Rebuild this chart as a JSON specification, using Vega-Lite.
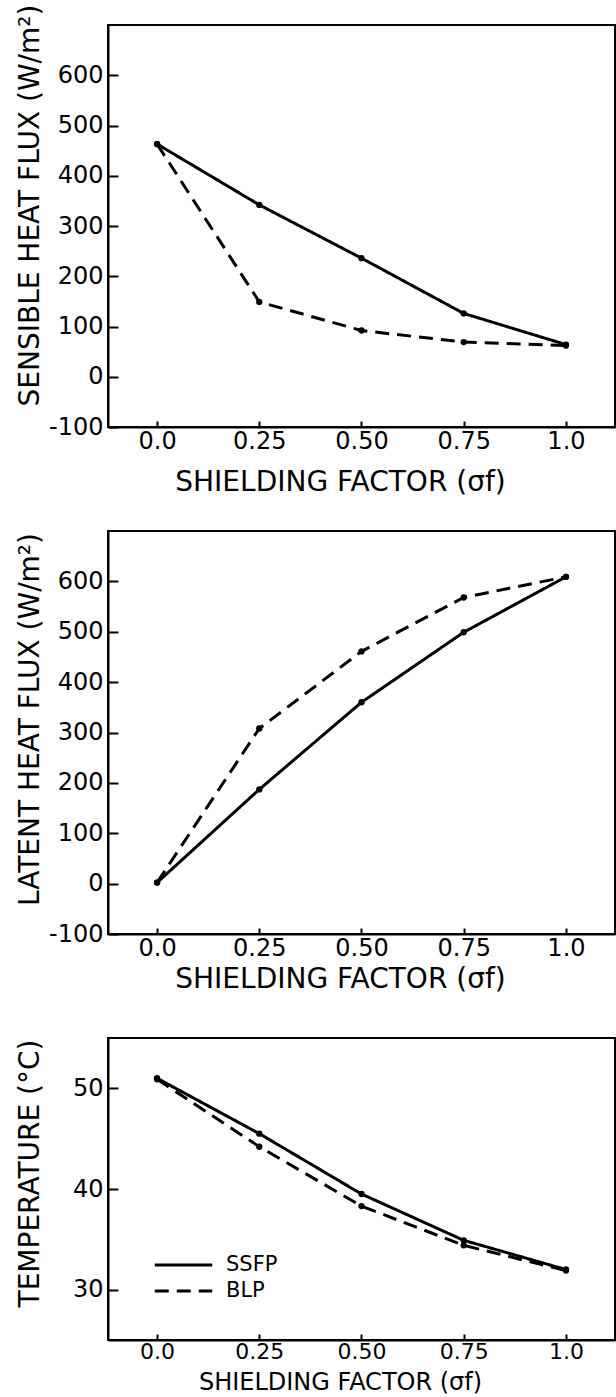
{
  "$schema": "https://vega.github.io/schema/vega-lite/v6.json",
  "background": "white",
  "padding": {"left": 14, "top": 3, "right": 0, "bottom": 0},
  "datasets": {
    "sensible": [
      {"sigma": 0, "model": "SSFP", "flux": 463},
      {"sigma": 0.25, "model": "SSFP", "flux": 342},
      {"sigma": 0.5, "model": "SSFP", "flux": 236},
      {"sigma": 0.75, "model": "SSFP", "flux": 126},
      {"sigma": 1, "model": "SSFP", "flux": 64},
      {"sigma": 0, "model": "BLP", "flux": 463},
      {"sigma": 0.25, "model": "BLP", "flux": 149},
      {"sigma": 0.5, "model": "BLP", "flux": 92},
      {"sigma": 0.75, "model": "BLP", "flux": 69},
      {"sigma": 1, "model": "BLP", "flux": 62}
    ],
    "latent": [
      {"sigma": 0, "model": "SSFP", "flux": 2},
      {"sigma": 0.25, "model": "SSFP", "flux": 187},
      {"sigma": 0.5, "model": "SSFP", "flux": 360},
      {"sigma": 0.75, "model": "SSFP", "flux": 499},
      {"sigma": 1, "model": "SSFP", "flux": 609},
      {"sigma": 0, "model": "BLP", "flux": 2},
      {"sigma": 0.25, "model": "BLP", "flux": 308},
      {"sigma": 0.5, "model": "BLP", "flux": 461},
      {"sigma": 0.75, "model": "BLP", "flux": 568},
      {"sigma": 1, "model": "BLP", "flux": 609}
    ],
    "temp": [
      {"sigma": 0, "model": "SSFP", "t": 51.0},
      {"sigma": 0.25, "model": "SSFP", "t": 45.5},
      {"sigma": 0.5, "model": "SSFP", "t": 39.5},
      {"sigma": 0.75, "model": "SSFP", "t": 34.9},
      {"sigma": 1, "model": "SSFP", "t": 32.0},
      {"sigma": 0, "model": "BLP", "t": 50.9},
      {"sigma": 0.25, "model": "BLP", "t": 44.2},
      {"sigma": 0.5, "model": "BLP", "t": 38.3},
      {"sigma": 0.75, "model": "BLP", "t": 34.4},
      {"sigma": 1, "model": "BLP", "t": 31.9}
    ]
  },
  "config": {
    "view": {"stroke": "black", "strokeWidth": 2},
    "font": "DejaVu Sans",
    "axis": {
      "grid": false,
      "domainColor": "black",
      "domainWidth": 2,
      "tickColor": "black",
      "tickWidth": 2,
      "labelColor": "black",
      "labelFont": "DejaVu Sans",
      "labelFontSize": 24,
      "titleColor": "black",
      "titleFont": "DejaVu Sans",
      "titleFontSize": 28,
      "titleFontWeight": "normal"
    },
    "axisY": {"tickSize": -10, "labelPadding": 15, "titleBaseline": "middle", "titleX": -78, "titleAngle": 270,
      "labelExpr": "datum.value < 0 ? '-' + abs(datum.value) : datum.label"},
    "axisX": {"tickSize": -6, "labelPadding": 8, "labelFlush": false, "titleX": 232, "titleBaseline": "middle"}
  },
  "spacing": 104,
  "bounds": "flush",
  "resolve": {"scale": {"strokeDash": "independent"}, "legend": {"strokeDash": "independent"}},
  "vconcat": [
    {
      "width": 507,
      "height": 402,
      "data": {"name": "sensible"},
      "encoding": {
        "x": {"field": "sigma", "type": "quantitative", "scale": {"domain": [-0.12, 1.12], "nice": false, "zero": false},
          "axis": {"values": [0, 0.25, 0.5, 0.75, 1], "labelExpr": "datum.value == 0 ? '0.0' : datum.value == 1 ? '1.0' : format(datum.value, '.2f')", "title": "SHIELDING FACTOR (σf)", "titleY": 55}},
        "y": {"field": "flux", "type": "quantitative", "scale": {"domain": [-100, 700], "nice": false, "zero": false},
          "axis": {"values": [-100, 0, 100, 200, 300, 400, 500, 600], "title": "SENSIBLE HEAT FLUX (W/m²)", "titleY": 180}}
      },
      "layer": [
        {"mark": {"type": "line", "color": "black", "strokeWidth": 3},
          "encoding": {"strokeDash": {"field": "model", "type": "nominal", "scale": {"domain": ["SSFP", "BLP"], "range": [[1, 0], [14, 8]]}, "legend": null}}},
        {"mark": {"type": "point", "filled": true, "color": "black", "size": 40, "opacity": 1}}
      ]
    },
    {
      "width": 507,
      "height": 403,
      "data": {"name": "latent"},
      "encoding": {
        "x": {"field": "sigma", "type": "quantitative", "scale": {"domain": [-0.12, 1.12], "nice": false, "zero": false},
          "axis": {"values": [0, 0.25, 0.5, 0.75, 1], "labelExpr": "datum.value == 0 ? '0.0' : datum.value == 1 ? '1.0' : format(datum.value, '.2f')", "title": "SHIELDING FACTOR (σf)", "titleY": 45}},
        "y": {"field": "flux", "type": "quantitative", "scale": {"domain": [-100, 700], "nice": false, "zero": false},
          "axis": {"values": [-100, 0, 100, 200, 300, 400, 500, 600], "title": "LATENT HEAT FLUX (W/m²)", "titleY": 188}}
      },
      "layer": [
        {"mark": {"type": "line", "color": "black", "strokeWidth": 3},
          "encoding": {"strokeDash": {"field": "model", "type": "nominal", "scale": {"domain": ["SSFP", "BLP"], "range": [[1, 0], [14, 8]]}, "legend": null}}},
        {"mark": {"type": "point", "filled": true, "color": "black", "size": 40, "opacity": 1}}
      ]
    },
    {
      "width": 507,
      "height": 302,
      "data": {"name": "temp"},
      "encoding": {
        "x": {"field": "sigma", "type": "quantitative", "scale": {"domain": [-0.12, 1.12], "nice": false, "zero": false},
          "axis": {"values": [0, 0.25, 0.5, 0.75, 1], "labelExpr": "datum.value == 0 ? '0.0' : datum.value == 1 ? '1.0' : format(datum.value, '.2f')", "title": "SHIELDING FACTOR (σf)", "titleY": 42, "labelFontSize": 22, "labelPadding": 7, "titleFontSize": 24}},
        "y": {"field": "t", "type": "quantitative", "scale": {"domain": [25, 55], "nice": false, "zero": false},
          "axis": {"values": [30, 40, 50], "title": "TEMPERATURE (°C)", "titleY": 135}}
      },
      "layer": [
        {"mark": {"type": "line", "color": "black", "strokeWidth": 3},
          "encoding": {"strokeDash": {"field": "model", "type": "nominal", "scale": {"domain": ["SSFP", "BLP"], "range": [[1, 0], [14, 8]]},
            "legend": {"orient": "none", "legendX": 45, "legendY": 214, "title": null, "symbolType": "stroke", "symbolSize": 3300, "symbolStrokeWidth": 3, "symbolStrokeColor": "black", "labelFontSize": 21, "labelFont": "DejaVu Sans", "labelColor": "black", "labelOffset": 12, "clipHeight": 26, "rowPadding": 0}}}},
        {"mark": {"type": "point", "filled": true, "color": "black", "size": 40, "opacity": 1}}
      ]
    }
  ]
}
